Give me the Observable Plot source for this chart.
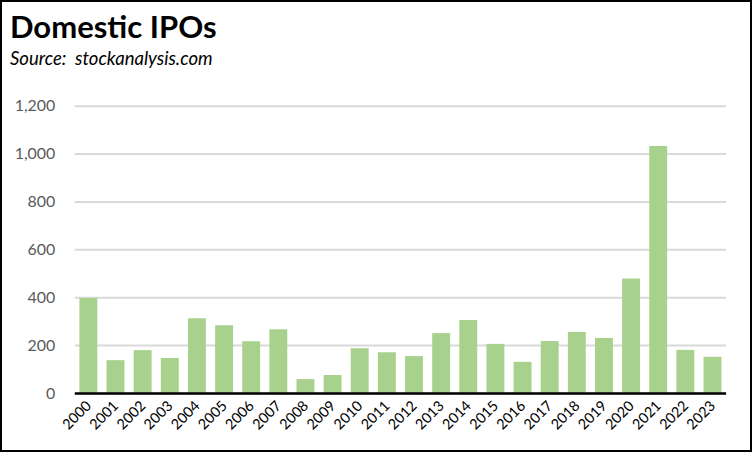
<!DOCTYPE html>
<html>
<head>
<meta charset="utf-8">
<script src="https://cdn.jsdelivr.net/npm/d3@7"></script>
<script src="https://cdn.jsdelivr.net/npm/@observablehq/plot@0.6"></script>
<style>
  html, body { margin: 0; padding: 0; background: #fff; }
  #frame { position: relative; width: 752px; height: 452px; box-sizing: border-box; border: 2px solid #000; overflow: hidden; font-family: Lato, "Open Sans", sans-serif; }
  #title { position: absolute; left: 8px; top: 5px; font-size: 31px; font-weight: 700; color: #000; white-space: nowrap; }
  #subtitle { position: absolute; left: 8px; top: 45px; font-size: 18.5px; font-style: italic; color: #000; white-space: nowrap; }
  #chart { position: absolute; left: -2px; top: -2px; }
</style>
</head>
<body>
<div id="frame">
  <div id="title">Domestic IPOs</div>
  <div id="subtitle">Source:&nbsp; stockanalysis.com</div>
  <div id="chart"></div>
</div>
<script>
const years = ["2000","2001","2002","2003","2004","2005","2006","2007","2008","2009","2010","2011","2012","2013","2014","2015","2016","2017","2018","2019","2020","2021","2022","2023"];
const ipos = [397, 137, 179, 146, 312, 283, 216, 266, 58, 75, 187, 170, 154, 250, 305, 205, 130, 217, 255, 230, 478, 1032, 180, 151];
const yTicks = [0, 200, 400, 600, 800, 1000, 1200];

const data = years.map((y, i) => ({year: y, value: ipos[i]}));

const chart = Plot.plot({
  width: 752,
  height: 452,
  marginLeft: 75,
  marginRight: 24,
  marginTop: 106,
  marginBottom: 58,
  style: { fontFamily: "Lato, 'Open Sans', sans-serif", background: "transparent" },
  x: { domain: years, paddingInner: 0.34, paddingOuter: 0.17, round: false, label: null },
  y: { domain: [0, 1200], label: null },
  marks: [
    Plot.gridY(yTicks, { stroke: "#d9d9d9", strokeOpacity: 1, strokeWidth: 2 }),
    Plot.barY(data, { x: "year", y: "value", fill: "#a9d18e" }),
    Plot.ruleY([0], { stroke: "#000", strokeWidth: 2.5 }),
    Plot.axisY(yTicks, { tickSize: 0, tickPadding: 20, fontSize: 16, fill: "#595959", tickFormat: d3.format(","), label: null }),
    Plot.axisX({ tickSize: 0, tickPadding: 10, tickRotate: -45, fontSize: 14.5, fill: "#000", label: null })
  ]
});
document.getElementById("chart").appendChild(chart);
</script>
</body>
</html>
